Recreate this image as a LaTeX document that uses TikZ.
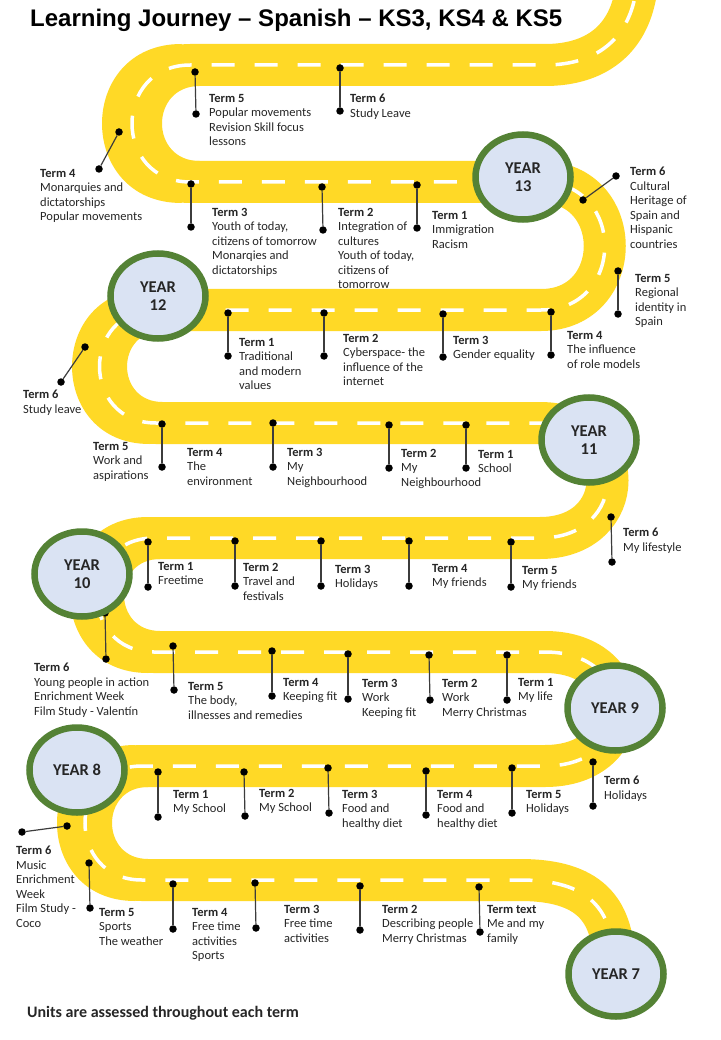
\documentclass[tikz,border=0pt]{standalone}
\usepackage{fontspec}
\setmainfont{Carlito}
\newfontfamily\titlefont{Liberation Sans}
\usetikzlibrary{shapes.geometric}
\definecolor{roady}{RGB}{255,217,38}
\definecolor{yfill}{RGB}{218,227,243}
\definecolor{ygreen}{RGB}{84,130,53}
\definecolor{txtc}{RGB}{38,38,38}
\definecolor{stemc}{RGB}{60,60,60}
\tikzset{
  road/.style={line width=42pt, draw=roady},
  centerdash/.style={line width=3.5pt, draw=white, dash pattern=on 23pt off 20pt},
  dotm/.style={circle, fill=black, minimum size=7.5pt, inner sep=0pt},
  stem/.style={draw=stemc, line width=1.2pt},
  lab/.style={anchor=north west, align=left, inner sep=0pt, text=txtc, font=\fontsize{12.5}{14.5}\selectfont},
  yearc/.style={ellipse, draw=ygreen, fill=yfill, line width=6.5pt, minimum width=95pt, minimum height=85pt, inner sep=0pt, align=center, text=txtc, font=\bfseries\fontsize{16.5}{18.5}\selectfont},
}
\def\roadpath{(643,-41) -- (635,-3) .. controls (625,45) and (590,65) .. (545,65) -- (190.5,65) .. controls (112.5,65) and (112.5,182) .. (190.5,182) -- (541,182) .. controls (626,182) and (626,310) .. (541,310) -- (156,310) .. controls (80.7,310) and (80.7,423) .. (156,423) -- (540,423) .. controls (630,423) and (630,538) .. (540,538) -- (154,538) .. controls (78,538) and (78,652) .. (154,652) -- (545,652) .. controls (640,652) and (640,766) .. (545,766) -- (142,766) .. controls (66,766) and (66,880) .. (142,880) -- (520,880) .. controls (590,880) and (612,910) .. (614,960)}
% wide left bend: #1 outer join x, #2 inner join x, #3 top centre y, #4 bottom centre y, #5 outer control x, #6 inner control x
\newcommand\widebend[6]{%
  \fill[roady] (#1,#3-21) .. controls (#5,#3-21) and (#5,#4+21) .. (#1,#4+21)
     -- (#2,#4-21) .. controls (#6,#4-21) and (#6,#3+21) .. (#2,#3+21) -- cycle;}
\begin{document}
\begin{tikzpicture}[x=1pt,y=-1pt]
\useasboundingbox (0,0) rectangle (720,1040);
\clip (0,0) rectangle (720,1040);
\fill[white] (0,0) rectangle (720,1040);
% road
\draw[road] \roadpath;
\widebend{181.5}{199.5}{65}{182}{75.5}{149.5}
\widebend{149.5}{162.5}{310}{423}{46.2}{115.2}
\widebend{148}{160}{538}{652}{44}{112}
\widebend{135}{148}{766}{880}{31}{100}
\draw[centerdash] \roadpath;
% markers
\foreach \i/\ax/\ay/\bx/\by in {
 1/195/72/196/114, 2/340/68/340/111, 3/119/132/99/169, 4/191/184/191/227,
 5/322/187/323/230, 6/417/185/417/228, 7/583/200/616/176, 8/618/271/618/314,
 9/551/312/551/355, 10/443/314/443/357, 11/324/313/324/356, 12/228/313/228/356,
 13/85/347/61/382, 14/162/424/162/467, 15/273/423/273/467, 16/389/425/389/468,
 17/466/425/466/468, 18/611/517/612/562, 19/148/542/148/587, 20/235/541/235/586,
 21/321/541/321/586, 22/409/541/409/586, 23/511/542/511/587, 24/105/613/106/659,
 25/173/646/174/690, 26/272/651/272/696, 27/348/654/348/699, 28/429/655/430/700,
 29/507/655/507/700, 30/593/762/593/806, 31/158/772/158/817, 32/244/772/245/816,
 33/328/768/329/813, 34/426/771/426/815, 35/512/768/512/813, 36/67/826/22/832,
 37/89/863/90/908, 38/173/884/173/929, 39/255/883/256/928, 40/360/886/360/930,
 41/479/887/480/932}{
  \node[dotm] (ma\i) at (\ax,\ay) {};
  \node[dotm] (mb\i) at (\bx,\by) {};
  \draw[stem] (ma\i) -- (mb\i);
}
% year circles
\node[yearc] (y13) at (523,177) {YEAR\\13};
\node[yearc] (y12) at (158,296) {YEAR\\12};
\node[yearc] (y11) at (589,440) {YEAR\\11};
\node[yearc] (y10) at (82,574) {YEAR\\10};
\node[yearc] (y9) at (615,708) {YEAR 9};
\node[yearc] (y8) at (77,770) {YEAR 8};
\node[yearc] (y7) at (616,974) {YEAR 7};
% title and footer
\node[anchor=base west, inner sep=0pt, font=\titlefont\bfseries\fontsize{24}{28}\selectfont] (title) at (30,27) {Learning Journey – Spanish – KS3, KS4 \& KS5};
\node[anchor=base west, inner sep=0pt, text=txtc, font=\bfseries\fontsize{16}{18}\selectfont] (foot) at (27,1017) {Units are assessed throughout each term};
% labels
\node[lab] (l1) at (209,94) {\textbf{Term 5}\\Popular movements\\Revision Skill focus\\lessons};
\node[lab] (l2) at (350,94) {\textbf{Term 6}\\Study Leave};
\node[lab] (l3) at (40,169) {\textbf{Term 4}\\Monarquies and\\dictatorships\\Popular movements};
\node[lab] (l4) at (212,208) {\textbf{Term 3}\\Youth of today,\\citizens of tomorrow\\Monarqies and\\dictatorships};
\node[lab] (l5) at (338,208) {\textbf{Term 2}\\Integration of\\cultures\\Youth of today,\\citizens of\\tomorrow};
\node[lab] (l6) at (432,211) {\textbf{Term 1}\\Immigration\\Racism};
\node[lab] (l7) at (630,167) {\textbf{Term 6}\\Cultural\\Heritage of\\Spain and\\Hispanic\\countries};
\node[lab] (l8) at (635,274) {\textbf{Term 5}\\Regional\\identity in\\Spain};
\node[lab] (l9) at (567,331) {\textbf{Term 4}\\The influence\\of role models};
\node[lab] (l10) at (453,336) {\textbf{Term 3}\\Gender equality};
\node[lab] (l11) at (343,334) {\textbf{Term 2}\\Cyberspace- the\\influence of the\\internet};
\node[lab] (l12) at (239,338) {\textbf{Term 1}\\Traditional\\and modern\\values};
\node[lab] (l13) at (23,390) {\textbf{Term 6}\\Study leave};
\node[lab] (l14) at (93,442) {\textbf{Term 5}\\Work and\\aspirations};
\node[lab] (l15) at (187,448) {\textbf{Term 4}\\The\\environment};
\node[lab] (l16) at (287,448) {\textbf{Term 3}\\My\\Neighbourhood};
\node[lab] (l17) at (401,449) {\textbf{Term 2}\\My\\Neighbourhood};
\node[lab] (l18) at (478,450) {\textbf{Term 1}\\School};
\node[lab] (l19) at (623,528) {\textbf{Term 6}\\My lifestyle};
\node[lab] (l20) at (158,562) {\textbf{Term 1}\\Freetime};
\node[lab] (l21) at (243,563) {\textbf{Term 2}\\Travel and\\festivals};
\node[lab] (l22) at (335,565) {\textbf{Term 3}\\Holidays};
\node[lab] (l23) at (432,564) {\textbf{Term 4}\\My friends};
\node[lab] (l24) at (522,566) {\textbf{Term 5}\\My friends};
\node[lab] (l25) at (34,663) {\textbf{Term 6}\\Young people in action\\Enrichment Week\\Film Study - Valentín};
\node[lab] (l26) at (188,682) {\textbf{Term 5}\\The body,\\illnesses and remedies};
\node[lab] (l27) at (283,678) {\textbf{Term 4}\\Keeping fit};
\node[lab] (l28) at (362,679) {\textbf{Term 3}\\Work\\Keeping fit};
\node[lab] (l29) at (442,679) {\textbf{Term 2}\\Work\\Merry Christmas};
\node[lab] (l30) at (518,678) {\textbf{Term 1}\\My life};
\node[lab] (l31) at (604,776) {\textbf{Term 6}\\Holidays};
\node[lab] (l32) at (173,790) {\textbf{Term 1}\\My School};
\node[lab] (l33) at (259,789) {\textbf{Term 2}\\My School};
\node[lab] (l34) at (342,790) {\textbf{Term 3}\\Food and\\healthy diet};
\node[lab] (l35) at (437,790) {\textbf{Term 4}\\Food and\\healthy diet};
\node[lab] (l36) at (526,790) {\textbf{Term 5}\\Holidays};
\node[lab] (l37) at (16,846) {\textbf{Term 6}\\Music\\Enrichment\\Week\\Film Study -\\Coco};
\node[lab] (l38) at (99,908) {\textbf{Term 5}\\Sports\\The weather};
\node[lab] (l39) at (192,908) {\textbf{Term 4}\\Free time\\activities\\Sports};
\node[lab] (l40) at (284,905) {\textbf{Term 3}\\Free time\\activities};
\node[lab] (l41) at (382,905) {\textbf{Term 2}\\Describing people\\Merry Christmas};
\node[lab] (l42) at (487,905) {\textbf{Term text}\\Me and my\\family};
\end{tikzpicture}
\end{document}
